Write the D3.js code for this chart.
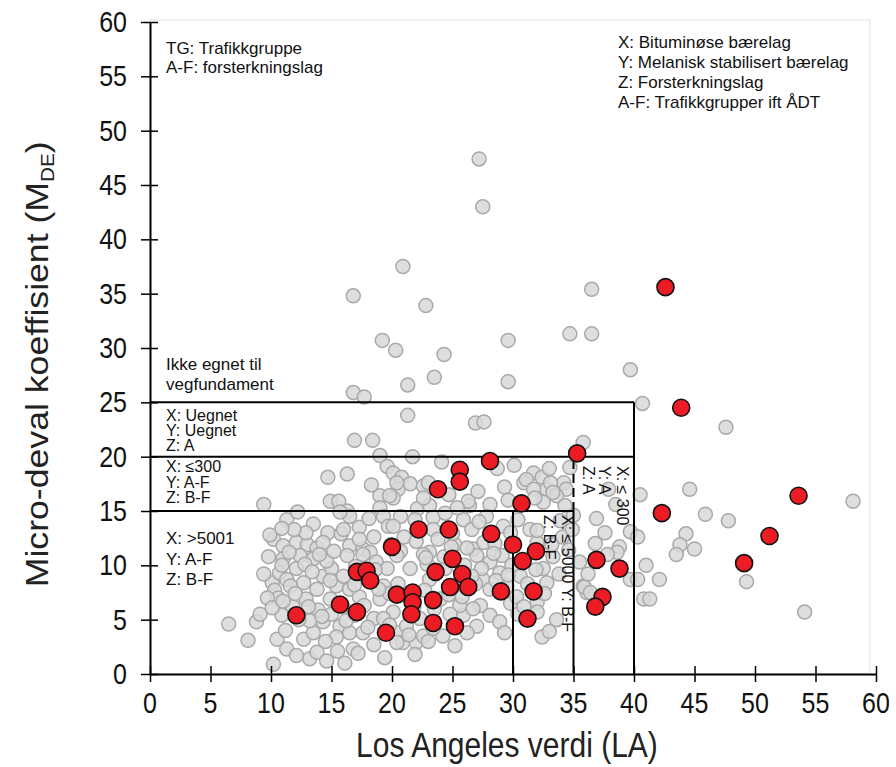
<!DOCTYPE html>
<html>
<head>
<meta charset="utf-8">
<script src="https://cdn.jsdelivr.net/npm/d3@7"></script>
<style>
  body { margin: 0; background: #fff; }
  svg text { font-family: "Liberation Sans", Arial, sans-serif; }
</style>
</head>
<body>
<div id="chart"></div>
<script>
// tick values on both axes
const xTicks = [0, 5, 10, 15, 20, 25, 30, 35, 40, 45, 50, 55, 60];
const yTicks = [0, 5, 10, 15, 20, 25, 30, 35, 40, 45, 50, 55, 60];

// grey points: all samples [LA, MDE]
const greyPoints = [
  [27.2,47.4],[27.5,43.0],[20.9,37.5],[16.8,34.8],[22.8,33.9],[36.5,35.4],[19.2,30.7],[20.3,29.8],
  [24.3,29.4],[29.6,30.7],[34.7,31.3],[36.5,31.3],[39.7,28.0],[23.5,27.3],[21.3,26.6],[29.6,26.9],
  [16.8,25.9],[17.7,25.5],[40.7,24.9],[21.3,23.8],[26.9,23.1],[27.6,23.2],[47.6,22.7],[35.8,21.3],
  [16.9,21.5],[18.4,21.5],[19.0,20.1],[21.7,20.0],[19.6,19.1],[24.1,19.5],[20.1,18.5],[20.8,18.1],
  [14.7,18.1],[16.3,18.4],[21.5,17.5],[22.6,17.3],[20.5,17.0],[23.0,17.6],[20.4,17.6],[31.7,18.5],
  [32.4,18.1],[30.9,17.6],[32.8,17.0],[34.2,17.6],[34.4,17.0],[33.6,16.4],[31.1,17.9],[33.1,17.6],
  [31.7,17.0],[33.3,16.7],[32.5,15.8],[31.8,16.2],[28.1,15.6],[26.4,15.5],[24.7,16.5],[20.1,16.2],
  [19.0,16.4],[19.8,16.4],[9.4,15.6],[14.9,15.9],[15.6,15.9],[16.3,15.0],[16.5,14.5],[15.7,14.9],
  [19.0,15.3],[19.3,14.5],[19.7,13.6],[22.1,15.2],[23.1,15.5],[40.5,16.5],[39.7,13.1],[40.3,12.6],
  [38.8,11.7],[38.6,11.2],[20.7,14.5],[21.9,14.2],[23.4,14.4],[25.9,14.2],[27.8,14.5],[20.1,13.6],
  [23.4,13.3],[26.6,13.3],[29.2,13.6],[29.8,13.0],[31.4,13.3],[32.0,12.1],[32.0,13.2],[20.7,11.3],
  [23.1,11.2],[26.7,11.5],[29.1,10.9],[25.2,11.9],[11.3,14.2],[13.5,13.8],[14.7,13.0],[18.5,12.6],
  [10.2,12.4],[11.0,11.8],[12.1,12.1],[13.0,11.9],[13.8,11.6],[14.3,12.1],[16.5,11.8],[17.6,11.5],
  [18.2,11.2],[20.4,10.9],[22.6,11.0],[27.0,10.9],[28.1,10.3],[28.9,9.3],[27.5,8.7],[28.1,7.8],
  [29.5,8.1],[32.8,8.4],[32.5,9.7],[35.5,10.3],[35.8,8.1],[36.1,7.5],[39.7,8.7],[40.8,6.9],
  [32.0,6.6],[32.0,5.7],[32.4,3.4],[27.3,6.3],[28.1,5.4],[28.9,4.8],[27.0,4.4],[25.9,5.4],
  [25.6,6.3],[26.2,3.8],[20.4,3.8],[20.9,2.9],[22.0,2.9],[22.6,3.5],[24.2,3.5],[26.7,6.0],
  [20.1,5.7],[21.2,4.4],[21.5,9.7],[23.1,8.7],[24.4,9.7],[26.9,8.3],[24.0,6.9],[20.5,8.3],
  [22.3,5.1],[24.8,5.5],[6.5,4.6],[8.1,3.1],[8.8,4.8],[9.1,5.5],[10.2,0.9],[10.1,8.4],
  [10.3,7.7],[10.6,7.0],[10.7,9.3],[11.0,10.6],[11.3,8.7],[11.6,8.1],[12.1,9.7],[12.4,10.9],
  [10.9,5.4],[10.5,3.2],[11.2,4.0],[11.3,2.3],[12.1,1.7],[13.2,1.4],[13.8,2.0],[12.7,3.2],
  [13.5,3.8],[14.3,4.8],[13.2,4.9],[12.9,6.9],[13.8,7.8],[12.7,8.4],[14.3,9.0],[15.0,9.7],
  [14.6,10.4],[13.5,10.6],[15.4,8.1],[14.9,6.9],[15.0,5.5],[15.7,4.4],[15.4,3.4],[16.8,2.3],
  [16.5,3.8],[17.6,3.8],[16.5,7.8],[16.3,10.9],[17.6,11.0],[18.7,10.3],[19.3,8.1],[19.0,6.9],
  [18.5,5.1],[19.3,5.1],[20.4,2.9],[44.6,17.0],[45.9,14.7],[47.8,14.1],[44.3,12.9],[43.8,11.9],
  [45.0,11.5],[43.5,11.0],[49.3,8.5],[54.1,5.7],[58.1,15.9],[42.1,8.7],[41.3,6.9],[40.3,8.7],
  [35.9,8.0],[36.4,7.5],[41.0,10.0],[11.8,6.2],[12.3,5.0],[13.9,5.9],[14.5,3.0],[15.9,6.2],
  [16.9,5.4],[17.3,7.1],[17.9,8.9],[18.0,4.3],[19.6,9.7],[19.9,11.9],[21.0,12.6],[22.0,12.2],
  [22.9,10.1],[23.8,12.4],[24.3,10.8],[25.0,12.9],[26.0,10.0],[27.6,12.1],[28.5,12.0],[28.4,11.1],
  [29.9,10.0],[30.6,9.0],[31.2,8.3],[31.9,9.6],[33.3,10.8],[33.8,9.2],[34.1,12.6],[34.6,11.4],
  [33.9,14.1],[35.0,14.6],[26.3,15.9],[27.1,16.8],[29.3,17.2],[29.6,16.0],[28.7,18.9],[30.1,19.2],
  [33.0,18.9],[34.7,19.0],[36.9,14.3],[37.6,13.0],[36.8,12.0],[37.9,17.0],[38.5,15.6],[22.7,7.7],
  [23.5,6.0],[24.7,7.3],[25.8,7.1],[21.8,6.1],[19.8,7.4],[18.6,9.6],[17.0,9.9],[15.8,12.9],
  [17.3,13.5],[16.0,13.3],[12.9,13.0],[11.9,13.3],[10.9,13.4],[9.8,10.8],[9.4,9.2],[9.7,7.0],
  [10.1,6.1],[17.2,1.9],[18.5,2.7],[19.4,1.5],[14.6,1.2],[15.5,2.1],[23.4,4.2],[25.2,2.6],
  [29.8,6.5],[30.4,5.5],[29.3,3.8],[33.6,5.0],[11.5,11.2],[12.8,10.1],[14.0,11.0],[15.2,11.3],
  [16.0,9.0],[16.9,8.2],[14.9,8.6],[13.4,9.4],[12.0,7.4],[11.0,6.7],[13.1,6.2],[14.2,5.3],
  [16.2,4.9],[17.7,6.3],[18.9,7.8],[19.8,4.5],[21.4,3.6],[23.0,3.0],[22.8,10.7],[24.9,11.7],
  [26.2,11.6],[27.4,9.7],[26.6,9.0],[28.6,8.6],[29.6,9.1],[30.3,7.1],[30.9,6.2],[32.6,7.4],
  [33.2,11.9],[34.9,13.3],[34.3,15.5],[27.2,14.0],[24.4,14.8],[22.6,16.2],[18.1,14.3],[17.3,12.4],
  [12.2,14.9],[10.9,10.0],[9.9,12.8],[18.3,17.4],[25.4,15.3],[30.4,14.2],[36.2,9.2],[37.8,11.0],
  [33.0,3.9],[21.9,1.8],[16.1,1.0]
];

// red points: highlighted samples [LA, MDE]
const redPoints = [
  [42.6,35.6],[43.9,24.5],[35.3,20.3],[28.1,19.6],[25.6,18.8],[25.6,17.7],[23.8,17.0],[30.7,15.7],
  [53.6,16.4],[42.3,14.8],[51.2,12.7],[49.1,10.2],[22.2,13.3],[24.7,13.3],[20.0,11.7],[28.2,12.9],
  [30.0,11.9],[31.9,11.3],[30.8,10.4],[36.9,10.5],[38.8,9.7],[37.4,7.1],[36.8,6.2],[31.7,7.6],
  [29.0,7.6],[31.2,5.1],[25.0,10.6],[17.1,9.4],[17.9,9.5],[18.2,8.6],[23.6,9.4],[25.8,9.2],
  [24.8,8.0],[26.3,8.0],[20.4,7.3],[21.7,7.5],[21.7,6.6],[23.4,6.8],[15.7,6.4],[17.1,5.7],
  [12.1,5.4],[21.6,5.5],[23.4,4.7],[25.2,4.4],[19.5,3.8]
];

// limit lines (in data units)
const hLines = [[0, 40, 25], [0, 40, 20], [0, 35, 15]];
const vLines = [[40, 0, 25], [30, 0, 15], [35, 0, 15]];
const vDashed = [[35, 15, 20]];

const width = 896, height = 767;
const stretch = 1.15; // the reference text is drawn a little taller than wide

const svg = d3.select("#chart").append("svg")
    .attr("width", width)
    .attr("height", height);

const x = d3.scaleLinear().domain([0, 60]).range([150, 876]);
const y = d3.scaleLinear().domain([0, 60]).range([674, 22]);

// light frame
svg.append("rect")
    .attr("x", x(0)).attr("y", 20)
    .attr("width", 870 - x(0)).attr("height", y(0) - 20)
    .attr("fill", "none").attr("stroke", "#e0e0e0").attr("stroke-width", 1);

// grey points
svg.append("g").selectAll("circle")
    .data(greyPoints)
    .join("circle")
    .attr("cx", d => x(d[0]))
    .attr("cy", d => y(d[1]))
    .attr("r", 7)
    .attr("fill", "#d8d8d8")
    .attr("fill-opacity", 0.85)
    .attr("stroke", "#a9a9a9")
    .attr("stroke-width", 1.5);

// limit lines
const lineG = svg.append("g").attr("stroke", "#000").attr("stroke-width", 2);
lineG.selectAll(".h").data(hLines).join("line")
    .attr("x1", d => x(d[0])).attr("x2", d => x(d[1]))
    .attr("y1", d => y(d[2])).attr("y2", d => y(d[2]));
lineG.selectAll(".v").data(vLines).join("line")
    .attr("x1", d => x(d[0])).attr("x2", d => x(d[0]))
    .attr("y1", d => y(d[1])).attr("y2", d => y(d[2]));
lineG.selectAll(".vd").data(vDashed).join("line")
    .attr("x1", d => x(d[0])).attr("x2", d => x(d[0]))
    .attr("y1", d => y(d[1])).attr("y2", d => y(d[2]))
    .attr("stroke-dasharray", "9,5");

// red points
svg.append("g").selectAll("circle")
    .data(redPoints)
    .join("circle")
    .attr("cx", d => x(d[0]))
    .attr("cy", d => y(d[1]))
    .attr("r", 8.5)
    .attr("fill", "#ec1c24")
    .attr("stroke", "#111")
    .attr("stroke-width", 1.6);

// axes (labels are drawn separately so they can be stretched)
const xAxis = svg.append("g")
    .attr("transform", `translate(0,${y(0)})`)
    .call(d3.axisBottom(x).tickValues(xTicks).tickSize(8).tickSizeOuter(0).tickFormat(""));
xAxis.selectAll(".tick line").attr("y1", -8);

const yAxis = svg.append("g")
    .attr("transform", `translate(${x(0)},0)`)
    .call(d3.axisLeft(y).tickValues(yTicks).tickSize(9).tickSizeOuter(0).tickFormat(""));
yAxis.selectAll(".tick line").attr("x1", 8);

svg.selectAll(".domain").attr("stroke", "#000").attr("stroke-width", 2);
svg.selectAll(".tick line").attr("stroke", "#000").attr("stroke-width", 1.5);

function stretchedText(px, py, txt, size, anchor) {
  const g = svg.append("g").attr("transform", `translate(${px},${py}) scale(1,${stretch})`);
  return g.append("text")
    .attr("text-anchor", anchor || "start")
    .attr("font-size", size)
    .attr("fill", "#111")
    .text(txt);
}

xTicks.forEach(v => stretchedText(x(v), 713, v, 25, "middle"));
yTicks.forEach(v => stretchedText(127, y(v) + 10, v, 25, "end"));

// axis titles
stretchedText(x(29.5), 757, "Los Angeles verdi (LA)", 30, "middle").attr("fill", "#222");

const yt = svg.append("g")
    .attr("transform", `translate(48,${y(28.5)}) scale(1,${stretch}) rotate(-90)`)
    .append("text")
    .attr("text-anchor", "middle")
    .attr("font-size", 31)
    .attr("fill", "#222");
yt.append("tspan").text("Micro-deval koeffisient (M");
yt.append("tspan").attr("font-size", 18).attr("dy", 6).text("DE");
yt.append("tspan").attr("dy", -6).text(")");

// annotations
function addLines(lines, x0, size) {
  lines.forEach(l => {
    svg.append("text")
      .attr("x", x0).attr("y", l[1])
      .attr("font-size", size)
      .attr("fill", "#111")
      .text(l[0]);
  });
}
addLines([["TG: Trafikkgruppe", 54], ["A-F: forsterkningslag", 73]], 166, 17);
addLines([["X: Bituminøse bærelag", 48], ["Y: Melanisk stabilisert bærelag", 68],
          ["Z: Forsterkningslag", 88], ["A-F: Trafikkgrupper ift ÅDT", 108]], 618, 17);
addLines([["Ikke egnet til", 370], ["vegfundament", 390]], 166, 17);
addLines([["X: Uegnet", 421], ["Y: Uegnet", 436], ["Z: A", 451]], 166, 16);
addLines([["X: ≤300", 472], ["Y: A-F", 488], ["Z: B-F", 503]], 166, 16);
addLines([["X: >5001", 544], ["Y: A-F", 565], ["Z: B-F", 585]], 166, 17);

// rotated annotations
function addRot(text, bx, by) {
  svg.append("text")
    .attr("transform", `translate(${bx},${by}) rotate(90)`)
    .attr("font-size", 16)
    .attr("fill", "#111")
    .text(text);
}
addRot("X: ≤ 300", 617, 466);
addRot("Y: A", 599, 466);
addRot("Z: A", 583, 466);
addRot("X: ≤ 5000 Y: B-F", 562, 515);
addRot("Z: B-F", 544, 515);
</script>
</body>
</html>
